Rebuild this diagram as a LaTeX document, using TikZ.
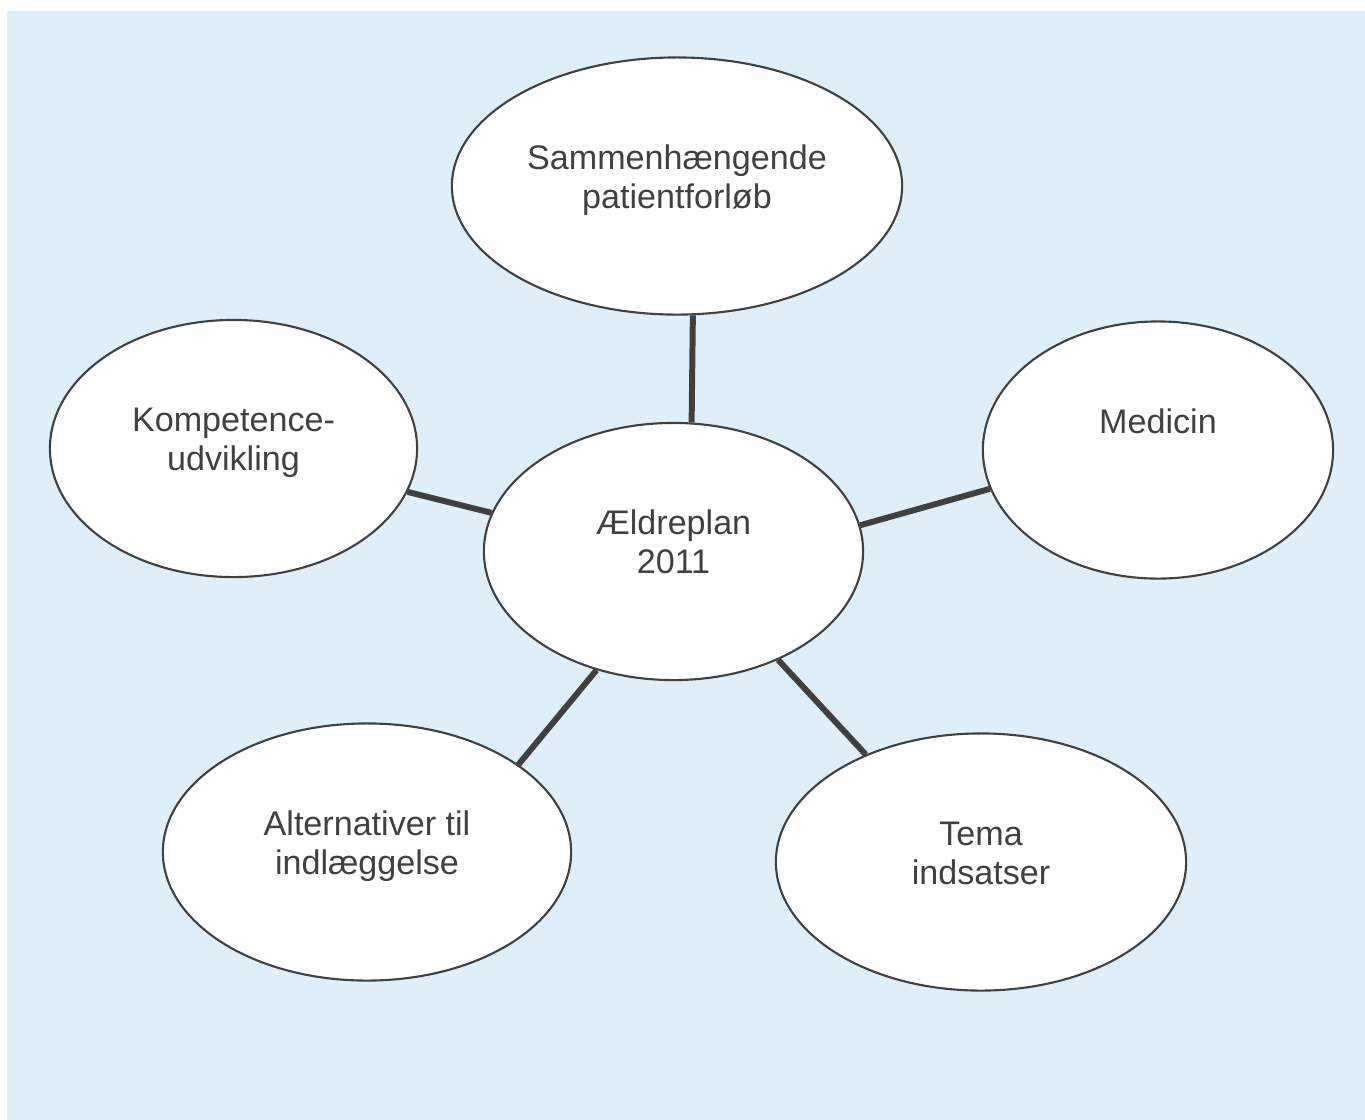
\documentclass[tikz,border=0pt]{standalone}
\usepackage{fontspec}
\setmainfont{Liberation Sans}
\usepackage{tikz}
\usetikzlibrary{calc,shapes.geometric}

\definecolor{bgblue}{RGB}{222,239,250}
\definecolor{darkline}{RGB}{64,64,64}

\begin{document}
\begin{tikzpicture}[x=0.01cm,y=-0.01cm]

% \draw[step=100,gray,very thin] (0,0) grid (1365,1120);

\tikzstyle{mybubble} = [ellipse, draw=darkline, line width=0.6pt, fill=white, inner sep=0pt, minimum height=2.57cm]
\tikzstyle{mytext} = [text=darkline, align=center, inner sep=0pt, font=\fontsize{9.7}{11.1}\selectfont]
\tikzstyle{myline} = [darkline, line width=1.7pt]

\useasboundingbox (0,0) rectangle (1365,1120);
\fill [bgblue] (7,11) rectangle (1365,1120);

\node (plan) [mybubble,minimum width=3.79cm] at (673.5,551.5) {};
\node (plantext) [mytext] at ($(plan)+(0,-5)$) {\strut Ældreplan\\2011\strut};

\node (forloeb) [mybubble,minimum width=4.50cm] at (677,186) {};
\node (forloebtext) [mytext] at ($(forloeb)+(0,-5)$) {\strut Sammenhængende\\patientforløb\strut};

\node (kompetence) [mybubble,minimum width=3.67cm] at (233.5,448.5) {};
\node (kompetencetext) [mytext] at ($(kompetence)+(0,-5)$) {\strut Kompetence-\\udvikling\strut};

\node (medicin) [mybubble,minimum width=3.50cm] at (1158,450) {};
\node (medicintext) [mytext] at ($(medicin)+(0,-5)$) {\strut Medicin\\\strut};

\node (alternativer) [mybubble,minimum width=4.08cm] at (367,852) {};
\node (alternativertext) [mytext] at ($(alternativer)+(0,-5)$) {\strut Alternativer til\\indlæggelse\strut};

\node (tema) [mybubble,minimum width=4.10cm] at (981,862) {};
\node (tematext) [mytext] at ($(tema)+(0,-5)$) {\strut Tema\\indsatser\strut};

\draw [myline] (plan.82) -- (forloeb.-83);
\draw [myline] (plan.168.6) -- (kompetence.-14.8);
\draw [myline] (plan.8.7) -- (medicin.-167.2);
\draw [myline] (plan.237) -- (alternativer.30.7);
\draw [myline] (plan.-46) -- (tema.137.3);

\end{tikzpicture}
\end{document}
